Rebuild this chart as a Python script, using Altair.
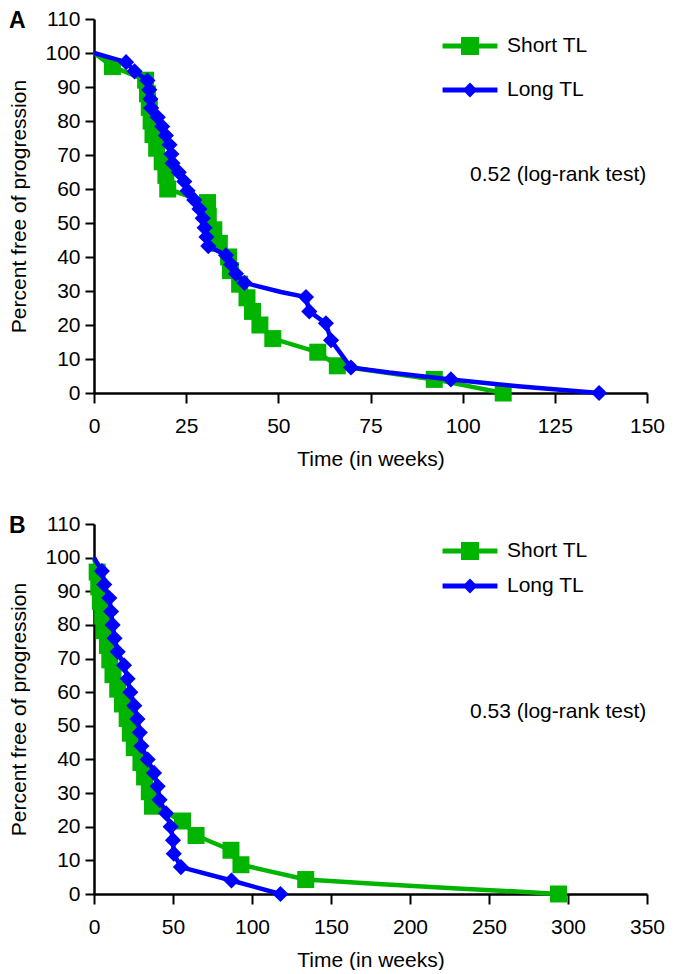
import altair as alt
import pandas as pd

SERIES = ["Short TL", "Long TL"]
COLORS = ["#00b400", "#0000ff"]
SHAPES = ["square", "diamond"]
SIZES = [289, 260]

# ---- Panel A ----
a_short_t = [0, 5, 14, 14.5, 15, 15.5, 16, 17, 18.5, 19.5, 20, 30.8, 31, 32.5, 34, 36.5, 37, 39.5, 41.5, 43, 45, 48.5, 60.7, 66, 92.3, 111]
a_short_v = [100, 96, 92, 88, 84, 80, 76, 72, 68, 64, 60, 56, 52, 48, 44, 40, 36, 32, 28, 24, 20, 16, 12, 8, 4, 0]
a_short_m = [0] + [1] * 25

a_long_t = [0, 8.7, 11, 14.5, 15, 15.3, 15.5, 17.3, 18.5, 19.5, 20.5, 21, 21.3, 23, 24.5, 25.4, 27.2, 28.6, 29.5, 30, 30.5, 31, 35.8, 37.2, 38.5, 40.8, 50.7, 57.5, 58.4, 62.9, 64.3, 69.7, 80, 96.8, 115, 137]
a_long_v = [100, 97.3, 94.6, 91.9, 89.2, 86.5, 83.8, 81.1, 78.4, 75.7, 73, 70.3, 67.6, 64.9, 62.2, 59.5, 56.8, 54.1, 51.4, 48.6, 45.9, 43.2, 40.5, 37.8, 35.1, 32.4, 29.7, 28.2, 24, 20.5, 15.5, 7.5, 6, 4, 2, 0]
a_long_m = [0] + [1] * 25 + [0] + [1] * 5 + [0, 1, 0, 1]

# ---- Panel B ----
b_short_t = [0, 2, 3, 4, 5.5, 6.5, 8.5, 10, 12, 15, 18, 21, 23, 25.5, 29.7, 32, 35, 37, 56, 64.6, 86.7, 93, 134, 180, 230, 265, 294]
b_short_v = [100, 95.7, 91.3, 87, 82.6, 78.3, 73.9, 69.6, 65.2, 60.9, 56.5, 52.2, 47.8, 43.5, 39.1, 34.8, 30.4, 26.1, 21.7, 17.4, 13, 8.7, 4.3, 3.0, 1.6, 0.8, 0]
b_short_m = [0] + [1] * 22 + [0, 0, 0, 1]

b_long_t = [0, 5, 6.5, 9.7, 10.8, 11.8, 13, 15, 19, 21.3, 23, 25.5, 27.5, 29, 30, 34, 38, 40.3, 41.5, 45.6, 48.5, 50, 50.5, 55, 87, 118]
b_long_v = [100, 96, 92, 88, 84, 80, 76, 72, 68, 64, 60, 56, 52, 48, 44, 40, 36, 32, 28, 24, 20, 16, 12, 8, 4, 0]
b_long_m = [0] + [1] * 25

# annotations
a_note = ["0.52 (log-rank test)"]
a_note_t = [102]
a_note_v = [64]
b_note = ["0.53 (log-rank test)"]
b_note_t = [238]
b_note_v = [54]

FONT = "Liberation Sans, Arial, Helvetica, sans-serif"

LEGEND_PATHS = [
    "M-1.83,-0.17L-0.6,-0.17L-0.6,-0.6L0.6,-0.6L0.6,-0.17L1.83,-0.17L1.83,0.17L0.6,0.17L0.6,0.6L-0.6,0.6L-0.6,0.17L-1.83,0.17Z",
    "M-1.83,-0.17L-0.33,-0.17L0,-0.5L0.33,-0.17L1.83,-0.17L1.83,0.17L0.33,0.17L0,0.5L-0.33,0.17L-1.83,0.17Z",
]


def frame(parts):
    rows = []
    for name, t, v, m in parts:
        for i, (tt, vv, mm) in enumerate(zip(t, v, m)):
            rows.append({"t": tt, "v": vv, "marker": mm, "series": name, "order": i})
    return pd.DataFrame(rows)


def panel(df, xmax, xstep, note, note_t, note_v, label, height, leg_x, leg_y, row_pad):
    x = alt.X("t:Q", scale=alt.Scale(domain=[0, xmax], nice=False),
              axis=alt.Axis(values=list(range(0, xmax + 1, xstep)), title="Time (in weeks)"))
    y = alt.Y("v:Q", scale=alt.Scale(domain=[0, 110], nice=False),
              axis=alt.Axis(values=list(range(0, 111, 10)), title="Percent free of progression"))
    base = alt.Chart(df)
    layers = []
    for s, col, shp, sz in zip(SERIES, COLORS, SHAPES, SIZES):
        layers.append(
            base.transform_filter(alt.datum.series == s)
            .mark_line(strokeWidth=4.5, color=col)
            .encode(x=x, y=y, order="order:Q")
        )
        layers.append(
            base.transform_filter((alt.datum.series == s) & (alt.datum.marker == 1))
            .mark_point(shape=shp, filled=True, size=sz, opacity=1, color=col)
            .encode(x=x, y=y)
        )
    leg = dict(orient="none", legendX=leg_x, legendY=leg_y, title=None, padding=0,
               symbolSize=900, symbolStrokeWidth=0, symbolOpacity=1, labelOffset=22,
               rowPadding=row_pad, labelFontSize=21, labelFont=FONT, labelColor="black",
               labelLimit=300)
    layers.append(
        base.mark_point(filled=True, opacity=0).encode(
            x=x, y=y,
            color=alt.Color("series:N", scale=alt.Scale(domain=SERIES, range=COLORS),
                            legend=alt.Legend(**leg)),
            shape=alt.Shape("series:N", scale=alt.Scale(domain=SERIES, range=LEGEND_PATHS),
                            legend=alt.Legend(**leg)),
        )
    )
    ndf = pd.DataFrame({"t": note_t, "v": note_v, "text": note})
    layers.append(
        alt.Chart(ndf).mark_text(align="left", baseline="middle", fontSize=21, font=FONT, color="black")
        .encode(x=x, y=y, text="text:N")
    )
    ldf = pd.DataFrame({"label": [label]})
    layers.append(
        alt.Chart(ldf).mark_text(align="left", baseline="middle", fontSize=23, fontWeight="bold",
                                 font=FONT, color="black")
        .encode(x=alt.value(-85), y=alt.value(2), text="label:N")
    )
    return alt.layer(*layers).properties(width=553, height=height)


dfa = frame([("Short TL", a_short_t, a_short_v, a_short_m), ("Long TL", a_long_t, a_long_v, a_long_m)])
dfb = frame([("Short TL", b_short_t, b_short_v, b_short_m), ("Long TL", b_long_t, b_long_v, b_long_m)])

pa = panel(dfa, 150, 25, a_note, a_note_t, a_note_v, "A", 374, 361, 12, 19)
pb = panel(dfb, 350, 50, b_note, b_note_t, b_note_v, "B", 370, 361, 12, 10)

chart = (
    alt.vconcat(pa, pb, spacing=44, padding=0)
    .resolve_scale(color="independent", shape="independent")
    .resolve_legend(color="independent", shape="independent")
    .configure_view(stroke=None)
    .configure_axis(domainColor="black", domainWidth=2.5, tickColor="black", tickWidth=2,
                    tickSize=9, labelFont=FONT, labelFontSize=21, labelColor="black",
                    titleFont=FONT, titleFontSize=21, titleFontWeight="normal", titleColor="black",
                    grid=False, labelFlush=False, labelOverlap=False)
    .configure_axisX(labelPadding=12, titlePadding=12, tickSize=10)
    .configure_axisY(labelPadding=5, titlePadding=15)
)

chart.save("out.html", embed_options={"renderer": "svg", "actions": False})
